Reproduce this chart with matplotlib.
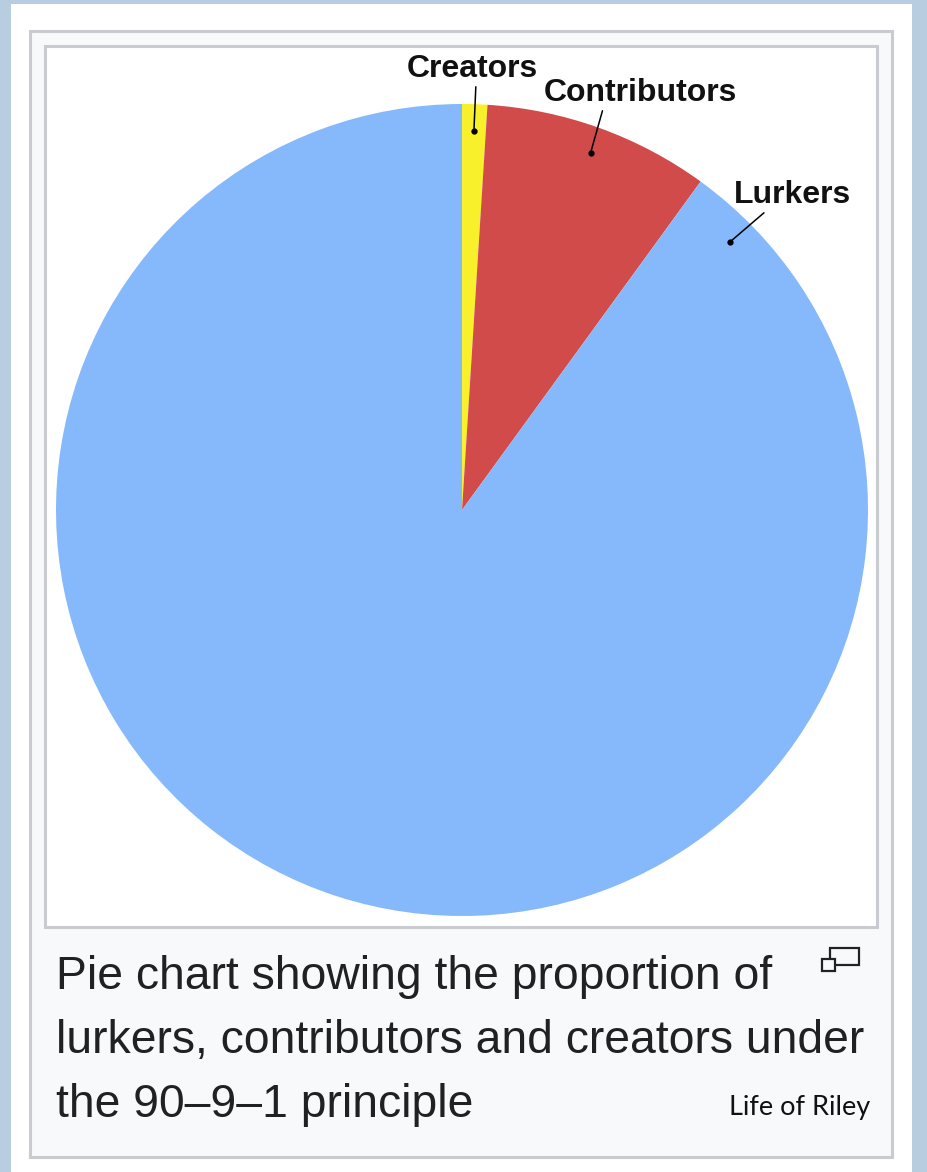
import matplotlib.pyplot as plt
import matplotlib.patches as mpatches
import numpy as np

labels = ['Lurkers', 'Contributors', 'Creators']
shares = [90, 9, 1]
colors = ['#86b9fb', '#d04b4a', '#f7f02b']
caption_lines = ['Pie chart showing the proportion of',
                 'lurkers, contributors and creators under',
                 'the 90\u20139\u20131 principle']
credit = 'Life of Riley'

W, H = 928, 1172
fig = plt.figure(figsize=(W / 100, H / 100), dpi=100)
fig.patch.set_facecolor('#b9cde0')

# page / box decoration in pixel coordinates
bg = fig.add_axes([0, 0, 1, 1])
bg.set_xlim(0, W)
bg.set_ylim(H, 0)
bg.axis('off')
bg.add_patch(mpatches.Rectangle((11, 4), 901, 1200, facecolor='white', edgecolor='none'))
bg.add_patch(mpatches.Rectangle((30.5, 30.5), 862, 1126, facecolor='#f8f9fa', edgecolor='#c8ccd1', lw=2.2))
bg.add_patch(mpatches.Rectangle((45.5, 45.5), 832, 881, facecolor='white', edgecolor='#c8ccd1', lw=2.2))

# enlarge icon
bg.add_patch(mpatches.Rectangle((830, 948), 29, 17, facecolor='none', edgecolor='#222222', lw=1.6))
bg.add_patch(mpatches.Rectangle((822, 959), 13, 12, facecolor='#f8f9fa', edgecolor='#222222', lw=1.6))

for i, line in enumerate(caption_lines):
    bg.text(56, 989 + 64 * i, line, fontsize=33.3, family='Liberation Sans', color='#202122',
            va='baseline', ha='left')
bg.text(870, 1115, credit, fontsize=19.5, family='Lato', color='#111111', va='baseline', ha='right')

# pie: centre (462, 510), radius 406 px
cx, cy, r = 462, 510, 406
ax = fig.add_axes([(cx - r) / W, (H - cy - r) / H, 2 * r / W, 2 * r / H])
wedges, _ = ax.pie(shares[::-1], colors=colors[::-1], startangle=90, counterclock=False,
                   wedgeprops=dict(linewidth=0))
ax.set_xlim(-1, 1)
ax.set_ylim(-1, 1)
ax.set_aspect('equal')
ax.axis('off')


def px(x, y):
    return ((x - cx) / r, (cy - y) / r)


# label positions (px), relpos of leader start, dot angle
label_info = {
    'Creators': ((472, 69), 0.53, None),
    'Contributors': ((640, 93), 0.31, None),
    'Lurkers': ((793, 195), 0.28, 45),
}
for w, name in zip(wedges, labels[::-1]):
    pos, rel, ang = label_info[name]
    if ang is None:
        ang = (w.theta1 + w.theta2) / 2
    a = np.deg2rad(ang)
    xy = (0.935 * np.cos(a), 0.935 * np.sin(a))
    ax.plot(*xy, 'o', color='black', ms=3.5)
    ax.annotate(name, xy=xy, xytext=px(*pos), ha='center', va='center',
                fontsize=23, fontweight='bold', family='Liberation Sans', color='#111111',
                arrowprops=dict(arrowstyle='-', color='black', lw=1.1, shrinkA=0, shrinkB=0,
                                relpos=(rel, 0)),
                annotation_clip=False)

fig.savefig('out.png', dpi=100)
